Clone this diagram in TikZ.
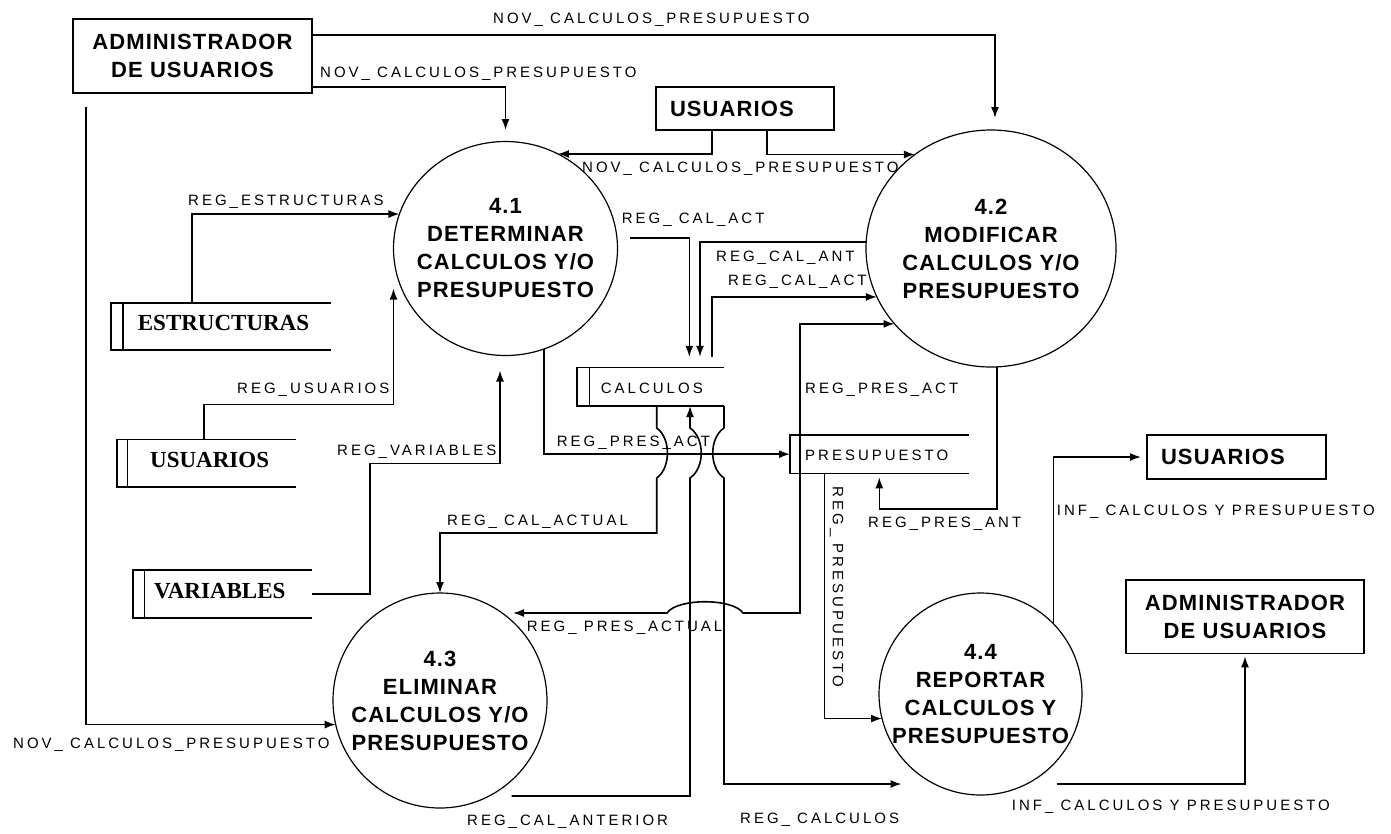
\documentclass[tikz,border=0pt]{standalone}
\usepackage{fontspec}
\setmainfont{Liberation Sans}
\newfontfamily\flowfont{Liberation Sans}[LetterSpace=20]
\newfontfamily\titlefont{Liberation Sans}[LetterSpace=5]
\newfontfamily\storefont{Liberation Serif}
\usetikzlibrary{arrows.meta,shapes.geometric,calc}

\begin{document}
\begin{tikzpicture}[x=1pt,y=-1pt,
  flow/.style={draw, line width=1.6pt, -{Latex[length=11pt,width=8pt]}},
  proc/.style={ellipse, draw, line width=1.2pt, inner sep=0pt, outer sep=0pt},
  proctext/.style={align=center, inner sep=0pt, font=\titlefont\bfseries\fontsize{22}{28}\selectfont},
  ext/.style={rectangle, draw, line width=1.6pt, inner sep=0pt, outer sep=0pt, align=center,
    font=\titlefont\bfseries\fontsize{22}{28.5}\selectfont},
  store/.style={rectangle, inner sep=0pt, outer sep=0pt},
  storeline/.style={line width=1.6pt},
  storebold/.style={anchor=west, inner sep=0pt, text depth=0pt, font=\storefont\bfseries\fontsize{23}{23}\selectfont},
  storeplain/.style={anchor=west, inner sep=0pt, text depth=0pt, font=\flowfont\fontsize{15}{15}\selectfont},
  lbl/.style={anchor=west, inner sep=0pt, text depth=0pt, font=\flowfont\fontsize{15}{15}\selectfont},
]
\fill[white] (0,0) rectangle (1391,833);
\useasboundingbox (0,0) rectangle (1391,833);

% external entities
\node[ext, minimum width=239, minimum height=74] (a1) at (192.5,56) {ADMINISTRADOR\\DE USUARIOS};
\node[ext, minimum width=238, minimum height=73.3] (a2) at (1245,616.7) {ADMINISTRADOR\\DE USUARIOS};
\node[ext, minimum height=43, text width=150, inner xsep=14, align=left] (u1) at (745,108.5) {USUARIOS};
\node[ext, minimum height=44, text width=151, inner xsep=14, align=left] (u2) at (1236.5,457) {USUARIOS};

% processes
\node[proc, minimum width=224, minimum height=214] (c41) at (505.5,248.5) {};
\node[proc, minimum width=250, minimum height=237] (c42) at (991,248.5) {};
\node[proc, minimum width=214, minimum height=215] (c43) at (440,700.5) {};
\node[proc, minimum width=203, minimum height=202] (c44) at (980.5,694) {};
\node[proctext] (c41t) at (c41) {4.1\\DETERMINAR\\CALCULOS Y/O\\PRESUPUESTO};
\node[proctext] (c42t) at (c42) {4.2\\MODIFICAR\\CALCULOS Y/O\\PRESUPUESTO};
\node[proctext] (c43t) at (c43) {4.3\\ELIMINAR\\CALCULOS Y/O\\PRESUPUESTO};
\node[proctext] (c44t) at (c44) {4.4\\REPORTAR\\CALCULOS Y\\PRESUPUESTO};

% data stores
\node[store, minimum width=220, minimum height=47.3] (sEst) at (221,326.35) {};
\node[store, minimum width=179.3, minimum height=47.7] (sUsr) at (206.35,463.15) {};
\node[store, minimum width=179, minimum height=47.7] (sVar) at (222.2,593.85) {};
\node[store, minimum width=147.3, minimum height=38.7] (sCal) at (650.35,386.65) {};
\node[store, minimum width=179.3, minimum height=38.3] (sPre) at (879.65,454.15) {};
\foreach \s/\d in {sEst/11.7, sUsr/10.6, sVar/11.6, sCal/12.6, sPre/10}{
  \draw[storeline] (\s.north east) -- (\s.north west) -- (\s.south west) -- (\s.south east);
  \draw[storeline] ($(\s.north west)+(\d,0)$) -- ($(\s.south west)+(\d,0)$);
}
\node[storebold] (sEstT) at ($(sEst.west)+(26.7,-3.3)$) {ESTRUCTURAS};
\node[storebold] (sUsrT) at ($(sUsr.west)+(33.3,-3.2)$) {USUARIOS};
\node[storebold] (sVarT) at ($(sVar.west)+(21.3,-3.2)$) {VARIABLES};
\node[storeplain] (sCalT) at ($(sCal.west)+(24,1.7)$) {CALCULOS};
\node[storeplain] (sPreT) at ($(sPre.west)+(15,0.9)$) {PRESUPUESTO};

% flows from the administrator
\draw[flow, shorten >=12pt] (a1.east |- 0,35) -| ($(c42.north)+(4,0)$);
\draw[flow, shorten >=11.5pt] (a1.east |- 0,87) -| (c41.north);
\draw[flow] ($(a1.south west)+(13,14)$) |- (c43.193);

% flows from USUARIOS
\draw[flow] (u1.south -| 711.7,0) |- (c41.61);
\draw[flow] (u1.south -| 766.7,0) |- (c42.129);

% stores feeding 4.1
\draw[flow] (sEst.north -| 192,0) |- (c41.162);
\draw[flow] (sUsr.north -| 204,0) -- ++(0,-35) -| ($(c41.west)+(0,40)$);
\draw[flow] (sVar.east) -| (370,463.3) -| ($(c41.south)+(-5.5,15)$);

% 4.1 outputs
\draw[flow] (c41.-69) |- (sPre.west);
\draw[flow, shorten >=10.5pt] ($(c41.east)+(12.5,-10.8)$) -| (sCal.north -| 689.3,0);

% 4.2 exchanges
\draw[flow, shorten >=10.5pt] (c42.177) -| (sCal.north -| 700,0);
\draw[flow, shorten <=10.5pt] (sCal.north -| 711.7,0) |- (c42.203);
\draw[flow] (sPre.center -| 800,0) |- (c42.218);
\draw[flow, shorten >=4pt] (c42.-87) |- (879.3,509) -- (sPre.south -| 879.3,0);

% CALCULOS lines, hopping over REG_PRES_ACT
\draw[flow] (sCal.south -| 656.7,0) -- (656.7,428) .. controls (671,438) and (671,468) .. (656.7,478)
  -- (656.7,533) -| (c43.north);
\draw[flow] ($(c43.center)+(71.7,95.5)$) -| (690,478) .. controls (705,468) and (705,438) .. (690,428)
  -- (sCal.south -| 690,0);
\draw[flow] (sCal.south east) -- (724,428) .. controls (709,438) and (709,468) .. (724,478)
  |- ($(c44.center)+(-79,90)$);

% PRESUPUESTO to 4.3 (hop over the two verticals) and to 4.4
\draw[flow] (sPre.center -| 800,0) |- (743,613) .. controls (733,598) and (677,598) .. (667,613)
  -- ($(c43.center)+(73,-87.5)$);
\draw[flow] (sPre.south -| 824.3,0) |- (c44.194);

% reports
\draw[flow, shorten >=6pt] (c44.44) |- (u2.west);
\draw[flow, shorten >=3pt] ($(c44.center)+(76.2,90)$) -| (a2.south);

% flow labels
\node[lbl] (l1) at (493,18) {NOV\_ CALCULOS\_PRESUPUESTO};
\node[lbl] (l2) at (320,72) {NOV\_ CALCULOS\_PRESUPUESTO};
\node[lbl] (l3) at (582,167) {NOV\_ CALCULOS\_PRESUPUESTO};
\node[lbl] (l4) at (13,743) {NOV\_ CALCULOS\_PRESUPUESTO};
\node[lbl] (l5) at (188,200) {REG\_ESTRUCTURAS};
\node[lbl] (l6) at (237,388) {REG\_USUARIOS};
\node[lbl] (l7) at (337,450) {REG\_VARIABLES};
\node[lbl] (l8) at (621.7,218) {REG\_ CAL\_ACT};
\node[lbl] (l9) at (716,256) {REG\_CAL\_ANT};
\node[lbl] (l10) at (728,280.7) {REG\_CAL\_ACT};
\node[lbl] (l11) at (805,388) {REG\_PRES\_ACT};
\node[lbl] (l12) at (556.7,441.7) {REG\_PRES\_ACT};
\node[lbl] (l13) at (447,520) {REG\_ CAL\_ACTUAL};
\node[lbl] (l14) at (868,522.7) {REG\_PRES\_ANT};
\node[lbl] (l15) at (526.7,626.7) {REG\_ PRES\_ACTUAL};
\node[lbl] (l16) at (467,820) {REG\_CAL\_ANTERIOR};
\node[lbl] (l17) at (740,818) {REG\_ CALCULOS};
\node[lbl] (l18) at (1056.7,510.7) {INF\_ CALCULOS Y PRESUPUESTO};
\node[lbl] (l19) at (1011.7,805) {INF\_ CALCULOS Y PRESUPUESTO};
\node[lbl, rotate=-90, anchor=center] (l20) at (838,587) {REG\_ PRESUPUESTO};
\end{tikzpicture}
\end{document}
